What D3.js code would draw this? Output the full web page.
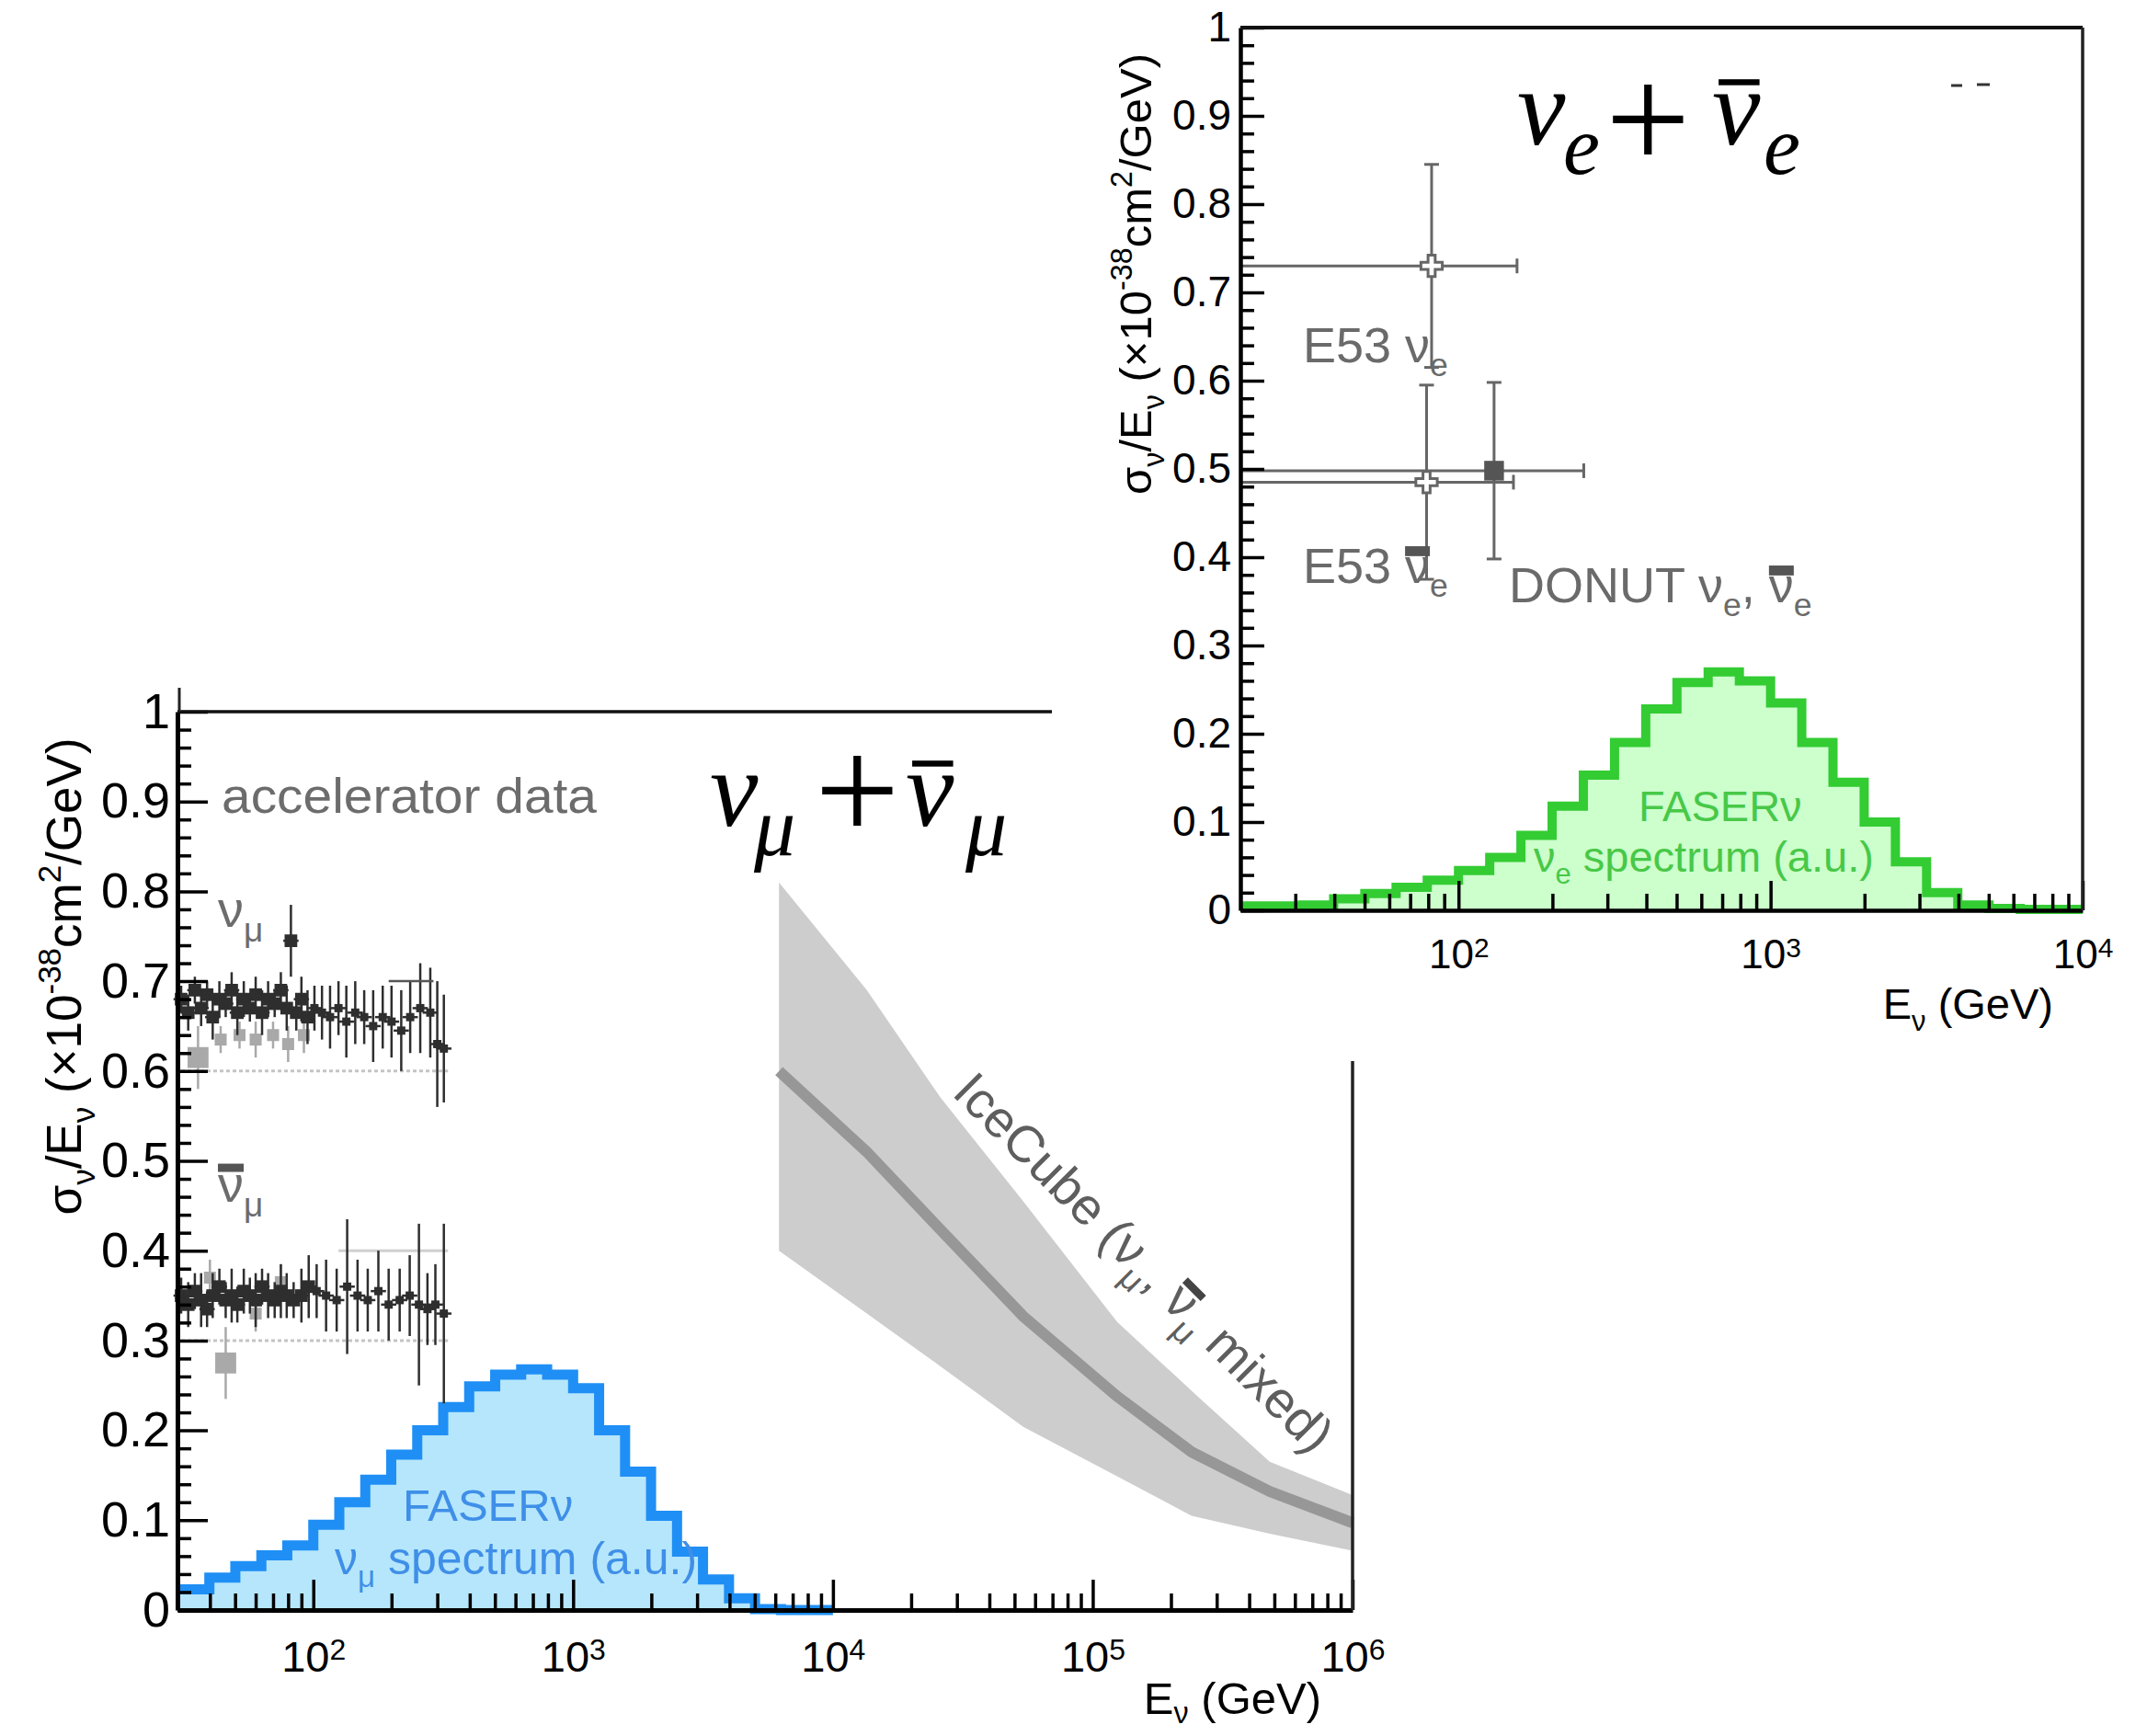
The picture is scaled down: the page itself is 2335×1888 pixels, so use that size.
<!DOCTYPE html>
<html>
<head>
<meta charset="utf-8">
<script src="https://cdn.jsdelivr.net/npm/d3@7"></script>
<style>
  body { margin: 0; background: #fff; }
</style>
</head>
<body>
<script>
// ---------- values ----------

// upper right panel: FASERnu nu_e spectrum, bins of 0.1 decade (GeV)
const nueEdges = [20, 25.1, 31.6, 39.8, 50.1, 63.1, 79.4, 100, 125.9, 158.5, 199.5, 251.2, 316.2, 398.1,
  501.2, 631, 794.3, 1000, 1259, 1585, 1995, 2512, 3162, 3981, 5012, 6310, 7943, 10000];
const nueSpec = [0.005, 0.005, 0.006, 0.013, 0.019, 0.026, 0.034, 0.045, 0.060, 0.085, 0.118, 0.153,
  0.190, 0.228, 0.258, 0.270, 0.260, 0.235, 0.190, 0.145, 0.100, 0.055, 0.020, 0.006, 0.002, 0.001, 0.001];

// upper right panel: E53 / DONUT measurements
const nueNames = ["E53 nu_e", "E53 nubar_e", "DONUT"];
const nueE = [82, 79, 130];
const nueVal = [0.73, 0.485, 0.498];
const nueYErr = [0.115, 0.11, 0.10];
const nueXLo = [10, 10, 10];
const nueXHi = [154, 150, 252];
const nueOpen = [true, true, false];

// lower left panel: FASERnu nu_mu spectrum
const numuEdges = [30, 39.8, 50.1, 63.1, 79.4, 100, 125.9, 158.5, 199.5, 251.2, 316.2, 398.1, 501.2,
  631, 794.3, 1000, 1259, 1585, 1995, 2512, 3162, 3981, 5012, 6310, 7943, 10000];
const numuSpec = [0.023, 0.036, 0.049, 0.061, 0.072, 0.095, 0.120, 0.145, 0.173, 0.200, 0.226, 0.249,
  0.262, 0.268, 0.262, 0.247, 0.200, 0.154, 0.105, 0.065, 0.034, 0.013, 0.001, 0, 0];

// IceCube band
const iceE = [6200, 13500, 26000, 54000, 124000, 240000, 480000, 1000000];
const iceHi = [0.81, 0.69, 0.57, 0.455, 0.321, 0.244, 0.165, 0.128];
const iceMid = [0.60, 0.51, 0.423, 0.327, 0.238, 0.176, 0.132, 0.097];
const iceLo = [0.40, 0.33, 0.271, 0.204, 0.149, 0.105, 0.085, 0.066];

// accelerator data, nu_mu
const numuE = [31, 33, 35, 37, 39, 41, 43.5, 46, 48.5, 51, 54, 57, 60, 63.5, 67, 71, 75, 79, 82, 86,
  90, 95, 101, 108, 116, 125, 134, 145, 157, 170, 185, 200, 218, 236, 258, 282, 300, 318];
const numuV = [0.68, 0.665, 0.69, 0.67, 0.685, 0.66, 0.68, 0.675, 0.69, 0.665, 0.68, 0.67, 0.685, 0.665,
  0.68, 0.675, 0.69, 0.67, 0.745, 0.665, 0.68, 0.66, 0.67, 0.665, 0.66, 0.67, 0.655, 0.665, 0.66, 0.65,
  0.66, 0.655, 0.645, 0.66, 0.67, 0.665, 0.63, 0.625];
const numuErr = [0.015, 0.02, 0.015, 0.02, 0.015, 0.025, 0.02, 0.015, 0.02, 0.025, 0.02, 0.015, 0.02,
  0.025, 0.02, 0.015, 0.02, 0.025, 0.04, 0.02, 0.025, 0.03, 0.025, 0.03, 0.035, 0.03, 0.04, 0.035, 0.03,
  0.04, 0.035, 0.04, 0.045, 0.04, 0.05, 0.05, 0.07, 0.06];
const numuGrayE = [36, 44, 52, 60, 70, 80, 92];
const numuGrayV = [0.615, 0.635, 0.64, 0.635, 0.64, 0.63, 0.64];
const numuGrayErr = [0.035, 0.015, 0.015, 0.02, 0.015, 0.02, 0.02];

// accelerator data, nubar_mu
const nubarE = [31, 33, 35, 37, 39, 41, 43.5, 46, 48.5, 51, 54, 57, 60, 63.5, 67, 71, 75, 79, 84, 90,
  96, 103, 112, 123, 135, 148, 162, 178, 195, 215, 235, 255, 275, 295, 318];
const nubarV = [0.35, 0.34, 0.355, 0.345, 0.335, 0.35, 0.36, 0.345, 0.35, 0.34, 0.355, 0.35, 0.345,
  0.36, 0.35, 0.345, 0.355, 0.35, 0.345, 0.35, 0.36, 0.355, 0.35, 0.345, 0.36, 0.35, 0.345, 0.355, 0.34,
  0.345, 0.35, 0.34, 0.335, 0.34, 0.33];
const nubarErr = [0.02, 0.025, 0.02, 0.03, 0.02, 0.025, 0.02, 0.02, 0.03, 0.02, 0.025, 0.02, 0.03, 0.02,
  0.025, 0.02, 0.03, 0.025, 0.02, 0.03, 0.035, 0.03, 0.04, 0.035, 0.075, 0.04, 0.035, 0.045, 0.04, 0.035,
  0.045, 0.09, 0.04, 0.045, 0.1];
const nubarGrayE = [46, 40, 60, 75];
const nubarGrayV = [0.275, 0.37, 0.33, 0.365];
const nubarGrayErr = [0.04, 0.02, 0.02, 0.02];

// ticks
const yMajor = [0, 0.1, 0.2, 0.3, 0.4, 0.5, 0.6, 0.7, 0.8, 0.9, 1];
const yLabels = ["0", "0.1", "0.2", "0.3", "0.4", "0.5", "0.6", "0.7", "0.8", "0.9", "1"];
const xMajorTop = [1e2, 1e3, 1e4];
const xExpTop = ["2", "3", "4"];
const xMajorBot = [1e2, 1e3, 1e4, 1e5, 1e6];
const xExpBot = ["2", "3", "4", "5", "6"];

// ---------- drawing ----------
const W = 2335, H = 1888;
const FONT = "'Liberation Sans', Arial, Helvetica, sans-serif";
const SERIF = "'Liberation Serif', 'Times New Roman', serif";

const svg = d3.select("body").append("svg")
  .attr("width", W).attr("height", H)
  .style("display", "block");
svg.append("rect").attr("width", W).attr("height", H).attr("fill", "#fff");

const xB = d3.scaleLog().domain([30, 1e6]).range([193, 1471]);
const yB = d3.scaleLinear().domain([0, 1]).range([1751, 774]);
const xT = d3.scaleLog().domain([20, 1e4]).range([1349, 2265]);
const yT = d3.scaleLinear().domain([0, 1]).range([990, 30]);

const yMinor = d3.range(0, 1.001, 0.02).filter(v => Math.abs(v * 10 - Math.round(v * 10)) > 1e-6);
const decMinor = lo => [1e1, 1e2, 1e3, 1e4, 1e5].flatMap(p => d3.range(2, 10).map(k => k * p)).filter(v => v > lo);
const xMinorTop = decMinor(20).filter(v => v < 1e4);
const xMinorBot = decMinor(30).filter(v => v < 1e6);

// text with sub / superscripts, returns tspans flagged as needing an overbar
function rich(text, parts, fs, subOff) {
  let off = 0;
  const bars = [];
  parts.forEach(([s, kind]) => {
    const small = kind === "sub" || kind === "sup";
    const target = kind === "sub" ? (subOff || 0.28) * fs : kind === "sup" ? -0.42 * fs : 0;
    const ts = text.append("tspan").attr("dy", target - off)
      .attr("font-size", small ? 0.66 * fs : fs).text(s);
    if (kind === "bar") bars.push(ts);
    off = target;
  });
  return bars;
}

function overbar(parent, ts, fs, o) {
  const n = ts.node();
  const ext = n.getExtentOfChar(0);
  const base = n.getStartPositionOfChar(0).y;
  parent.append("rect")
    .attr("x", ext.x + (o.dx || 0) * fs).attr("y", base - o.h * fs)
    .attr("width", ext.width * (o.w || 1)).attr("height", o.t * fs)
    .attr("fill", o.color);
}

function label(g, x, y, parts, fs, color, barOpt) {
  const t = g.append("text").attr("x", x).attr("y", y)
    .attr("font-family", FONT).attr("font-size", fs).attr("fill", color);
  const bars = rich(t, parts, fs);
  bars.forEach(b => overbar(g, b, fs, barOpt));
  return t;
}

function histo(g, x, y, edges, vals, stroke, fill, sw) {
  const pts = [[edges[0], 0]].concat(vals.map((v, i) => [edges[i], v]), [[edges[edges.length - 1], vals[vals.length - 1]]]);
  g.append("path").datum(pts)
    .attr("d", d3.area().curve(d3.curveStepAfter).x(d => x(d[0])).y0(y(0)).y1(d => y(d[1])))
    .attr("fill", fill);
  g.append("path").datum(pts.slice(1))
    .attr("d", d3.line().curve(d3.curveStepAfter).x(d => x(d[0])).y(d => y(d[1])))
    .attr("fill", "none").attr("stroke", stroke).attr("stroke-width", sw);
}

function axes(g, x, y, o) {
  const x0 = x.range()[0], y0 = y(0);
  const ya = g.append("g").attr("transform", `translate(${x0},0)`)
    .call(d3.axisLeft(y).tickValues(yMajor).tickFormat((d, i) => yLabels[i])
      .tickSize(-o.yMaj).tickSizeOuter(0).tickPadding(o.yPad));
  ya.attr("font-family", FONT).attr("font-size", o.yFs);
  ya.selectAll("line").attr("stroke-width", o.tw);
  ya.select(".domain").attr("stroke-width", o.aw);
  const ym = g.append("g").attr("transform", `translate(${x0},0)`)
    .call(d3.axisLeft(y).tickValues(yMinor).tickFormat("").tickSize(-o.yMin).tickSizeOuter(0));
  ym.selectAll("line").attr("stroke-width", o.tw);
  ym.selectAll("text").remove();
  ym.select(".domain").remove();

  const xa = g.append("g").attr("transform", `translate(0,${y0})`)
    .call(d3.axisBottom(x).tickValues(o.xMajor).tickFormat(() => "")
      .tickSize(-o.xMaj).tickSizeOuter(0).tickPadding(o.xPad));
  xa.attr("font-family", FONT).attr("font-size", o.xFs);
  xa.selectAll("line").attr("stroke-width", o.tw);
  xa.select(".domain").attr("stroke-width", o.aw);
  xa.selectAll("text").each(function (d, i) {
    const t = d3.select(this);
    t.append("tspan").text("10");
    t.append("tspan").attr("dy", "-0.42em").attr("font-size", o.xFs * 0.68).text(o.xExp[i]);
  });
  const xm = g.append("g").attr("transform", `translate(0,${y0})`)
    .call(d3.axisBottom(x).tickValues(o.xMinor).tickFormat("").tickSize(-o.xMin).tickSizeOuter(0));
  xm.selectAll("line").attr("stroke-width", o.tw);
  xm.selectAll("text").remove();
  xm.select(".domain").remove();
}

function errPoints(g, E, V, Err, color, shape, size, xf) {
  E.forEach((e, i) => {
    g.append("line").attr("x1", xB(e)).attr("x2", xB(e))
      .attr("y1", yB(V[i] - Err[i])).attr("y2", yB(V[i] + Err[i]))
      .attr("stroke", color).attr("stroke-width", 2.5);
    g.append("line").attr("x1", xB(e / xf)).attr("x2", xB(e * xf))
      .attr("y1", yB(V[i])).attr("y2", yB(V[i]))
      .attr("stroke", color).attr("stroke-width", 2.5);
  });
  g.selectAll(null).data(E).join("path")
    .attr("transform", (d, i) => `translate(${xB(d)},${yB(V[i])})`)
    .attr("d", (d, i) => d3.symbol(shape, typeof size === "function" ? size(d, i) : size)())
    .attr("fill", color);
}

// ===== lower left panel =====
const gB = svg.append("g");

// IceCube band and central line
const ice = iceE.map((e, i) => ({ e, hi: iceHi[i], mid: iceMid[i], lo: iceLo[i] }));
gB.append("path").datum(ice)
  .attr("d", d3.area().x(d => xB(d.e)).y0(d => yB(d.lo)).y1(d => yB(d.hi)))
  .attr("fill", "#cdcdcd");
gB.append("path").datum(ice)
  .attr("d", d3.line().x(d => xB(d.e)).y(d => yB(d.mid)))
  .attr("fill", "none").attr("stroke", "#979797").attr("stroke-width", 12);

// FASERnu nu_mu spectrum
histo(gB, xB, yB, numuEdges, numuSpec, "#1f8ff5", "#b5e6fb", 11);

// accelerator data
gB.append("line").attr("x1", xB(31)).attr("x2", xB(330)).attr("y1", yB(0.6)).attr("y2", yB(0.6))
  .attr("stroke", "#c4c4c4").attr("stroke-width", 3).attr("stroke-dasharray", "4,3");
gB.append("line").attr("x1", xB(31)).attr("x2", xB(330)).attr("y1", yB(0.3)).attr("y2", yB(0.3))
  .attr("stroke", "#c4c4c4").attr("stroke-width", 3).attr("stroke-dasharray", "4,3");
gB.append("line").attr("x1", xB(125)).attr("x2", xB(330)).attr("y1", yB(0.4)).attr("y2", yB(0.4))
  .attr("stroke", "#cfcfcf").attr("stroke-width", 3);
errPoints(gB, numuGrayE, numuGrayV, numuGrayErr, "#a9a9a9", d3.symbolSquare, (d, i) => i === 0 ? 520 : 170, 1.05);
errPoints(gB, nubarGrayE, nubarGrayV, nubarGrayErr, "#a9a9a9", d3.symbolSquare, (d, i) => i === 0 ? 520 : 170, 1.05);
errPoints(gB, numuE, numuV, numuErr, "#2e2e2e", d3.symbolSquare, (d) => d < 100 ? 190 : 80, 1.07);
errPoints(gB, nubarE, nubarV, nubarErr, "#2e2e2e", d3.symbolSquare, (d) => d < 100 ? 190 : 80, 1.07);
gB.append("line").attr("x1", xB(195)).attr("x2", xB(290)).attr("y1", yB(0.70)).attr("y2", yB(0.70))
  .attr("stroke", "#555").attr("stroke-width", 2.5);

// labels
gB.append("text").attr("x", 241).attr("y", 884)
  .attr("font-family", FONT).attr("font-size", 54).attr("fill", "#6c6c6c")
  .attr("textLength", 408).attr("lengthAdjust", "spacingAndGlyphs")
  .text("accelerator data");
label(gB, 237, 1008, [["ν", "n"], ["μ", "sub"]], 56, "#6c6c6c");
label(gB, 237, 1307, [["ν", "bar"], ["μ", "sub"]], 56, "#6c6c6c", { h: 0.74, t: 0.16, color: "#555" });
label(gB, 438, 1654, [["FASERν", "n"]], 49, "#3f8fe8");
label(gB, 364, 1712, [["ν", "n"], ["μ", "sub"], [" spectrum (a.u.)", "n"]], 50, "#3f8fe8");

// IceCube label, rotated
const gIce = gB.append("g").attr("transform", "translate(1034,1190) rotate(45)");
label(gIce, 0, 0, [["IceCube (ν", "n"], ["μ", "sub"], [", ", "n"], ["ν", "bar"], ["μ", "sub"], [" mixed)", "n"]],
  56, "#5e5e5e", { h: 0.74, t: 0.15, color: "#444" });

// axes and frame
axes(gB, xB, yB, {
  yMaj: 33, yMin: 15, yPad: 8, yFs: 54, xMaj: 33, xMin: 18, xPad: 34, xFs: 47,
  tw: 3.5, aw: 5, xMajor: xMajorBot, xExp: xExpBot, xMinor: xMinorBot
});
gB.append("line").attr("x1", xB.range()[0]).attr("x2", xB.range()[1]).attr("y1", yB(1)).attr("y2", yB(1))
  .attr("stroke", "#111").attr("stroke-width", 3.5);
gB.append("line").attr("x1", xB.range()[1]).attr("x2", xB.range()[1]).attr("y1", yB(1)).attr("y2", yB(0))
  .attr("stroke", "#222").attr("stroke-width", 3.5);
gB.append("line").attr("x1", xB.range()[0] + 2).attr("x2", xB.range()[0] + 2).attr("y1", yB(1) - 26).attr("y2", yB(1))
  .attr("stroke", "#222").attr("stroke-width", 3);

// axis titles
const tyB = gB.append("text").attr("transform", "translate(88,1062) rotate(-90)")
  .attr("text-anchor", "middle").attr("font-family", FONT).attr("font-size", 53);
rich(tyB, [["σ", "n"], ["ν", "sub"], ["/E", "n"], ["ν", "sub"], [" (×10", "n"], ["-38", "sup"], ["cm", "n"], ["2", "sup"], ["/GeV)", "n"]], 53);
const txB = gB.append("text").attr("x", 1437).attr("y", 1864)
  .attr("text-anchor", "end").attr("font-family", FONT).attr("font-size", 49);
rich(txB, [["E", "n"], ["ν", "sub"], [" (GeV)", "n"]], 49, 0.2);

// ===== upper right panel (pasted over) =====
svg.append("rect").attr("x", 1144).attr("y", 0).attr("width", W - 1144).attr("height", 1154).attr("fill", "#fff");
const gT = svg.append("g");

histo(gT, xT, yT, nueEdges, nueSpec, "#33cc33", "#ccffcc", 10);

// measurements: error bars first, then markers
nueE.forEach((e, i) => {
  const xl = xT(Math.max(nueXLo[i], xT.domain()[0])), xh = xT(nueXHi[i]);
  const yv = yT(nueVal[i]), yl = yT(nueVal[i] - nueYErr[i]), yh = yT(nueVal[i] + nueYErr[i]);
  const c = "#666";
  gT.append("line").attr("x1", xl).attr("x2", xh).attr("y1", yv).attr("y2", yv).attr("stroke", c).attr("stroke-width", 3);
  gT.append("line").attr("x1", xT(e)).attr("x2", xT(e)).attr("y1", yl).attr("y2", yh).attr("stroke", c).attr("stroke-width", 3);
  gT.append("line").attr("x1", xh).attr("x2", xh).attr("y1", yv - 8).attr("y2", yv + 8).attr("stroke", c).attr("stroke-width", 3);
  [yl, yh].forEach(yy => gT.append("line").attr("x1", xT(e) - 8).attr("x2", xT(e) + 8).attr("y1", yy).attr("y2", yy)
    .attr("stroke", c).attr("stroke-width", 3));
});
gT.selectAll(".mk").data(nueE).join("path")
  .attr("transform", (d, i) => `translate(${xT(d)},${yT(nueVal[i])})`)
  .attr("d", (d, i) => d3.symbol(nueOpen[i] ? d3.symbolCross : d3.symbolSquare, nueOpen[i] ? 300 : 460)())
  .attr("fill", (d, i) => nueOpen[i] ? "#fff" : "#555")
  .attr("stroke", (d, i) => nueOpen[i] ? "#666" : "none")
  .attr("stroke-width", 3);

// labels
const bo = { h: 0.74, t: 0.2, color: "#555" };
label(gT, 1417, 394, [["E53 ν", "n"], ["e", "sub"]], 54, "#6a6a6a");
label(gT, 1417, 634, [["E53 ", "n"], ["ν", "bar"], ["e", "sub"]], 54, "#6a6a6a", bo);
label(gT, 1641, 655, [["DONUT ν", "n"], ["e", "sub"], [", ", "n"], ["ν", "bar"], ["e", "sub"]], 54, "#6a6a6a", bo);
label(gT, 1782, 893, [["FASERν", "n"]], 47, "#48c848");
label(gT, 1668, 948, [["ν", "n"], ["e", "sub"], [" spectrum (a.u.)", "n"]], 47, "#48c848");

axes(gT, xT, yT, {
  yMaj: 26, yMin: 15, yPad: 10, yFs: 46, xMaj: 32, xMin: 18, xPad: 32, xFs: 44,
  tw: 3.5, aw: 4.5, xMajor: xMajorTop, xExp: xExpTop, xMinor: xMinorTop
});
gT.append("line").attr("x1", xT.range()[0]).attr("x2", xT.range()[1]).attr("y1", yT(1)).attr("y2", yT(1))
  .attr("stroke", "#111").attr("stroke-width", 4);
gT.append("line").attr("x1", xT.range()[1]).attr("x2", xT.range()[1]).attr("y1", yT(1)).attr("y2", yT(0))
  .attr("stroke", "#222").attr("stroke-width", 3.5);

const tyT = gT.append("text").attr("transform", "translate(1252,298) rotate(-90)")
  .attr("text-anchor", "middle").attr("font-family", FONT).attr("font-size", 49);
rich(tyT, [["σ", "n"], ["ν", "sub"], ["/E", "n"], ["ν", "sub"], [" (×10", "n"], ["-38", "sup"], ["cm", "n"], ["2", "sup"], ["/GeV)", "n"]], 49);
const txT = gT.append("text").attr("x", 2233).attr("y", 1108)
  .attr("text-anchor", "end").attr("font-family", FONT).attr("font-size", 47);
rich(txT, [["E", "n"], ["ν", "sub"], [" (GeV)", "n"]], 47);

// small dark marks near the top right corner
gT.append("line").attr("x1", 2122).attr("x2", 2134).attr("y1", 93).attr("y2", 93).attr("stroke", "#333").attr("stroke-width", 3);
gT.append("line").attr("x1", 2150).attr("x2", 2164).attr("y1", 92).attr("y2", 92).attr("stroke", "#333").attr("stroke-width", 3);

// ===== big channel labels =====
function mathLabel(xs, y, plusY, sub, fs, subFs) {
  const it = (x, yy, s, size) => svg.append("text").attr("x", x).attr("y", yy)
    .attr("font-family", SERIF).attr("font-style", "italic").attr("font-size", size).attr("fill", "#000").text(s);
  it(xs[0], y, "ν", fs);
  it(xs[1], y + fs * 0.27, sub, subFs);
  svg.append("text").attr("x", xs[2]).attr("y", plusY)
    .attr("font-family", SERIF).attr("font-size", 164).attr("fill", "#000").text("+");
  const nb = it(xs[3], y, "ν", fs);
  it(xs[4], y + fs * 0.27, sub, subFs);
  overbar(svg, nb, fs, { h: 0.6, t: 0.055, dx: 0.06, w: 0.85, color: "#000" });
}
mathLabel([1650, 1700, 1746, 1862, 1918], 157, 184, "e", 118, 90);
mathLabel([772, 820, 886, 985, 1050], 898, 914, "μ", 118, 90);
</script>
</body>
</html>
